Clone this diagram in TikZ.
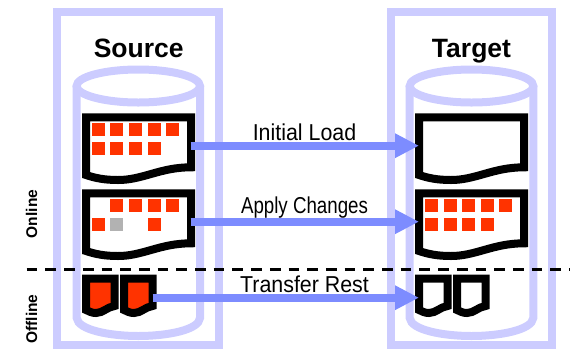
\documentclass[tikz,border=0pt]{standalone}
\usepackage{fontspec}
\setmainfont{Liberation Sans}
\usetikzlibrary{arrows.meta}
\definecolor{frameblue}{RGB}{204,204,255}
\definecolor{arrowblue}{RGB}{125,140,255}
\definecolor{cellred}{RGB}{255,51,0}
\definecolor{cellgray}{RGB}{178,178,178}
\tikzset{
  x=1pt,y=-1pt,
  frame/.style={draw=frameblue,line width=8pt,miter limit=10},
  docline/.style={draw=black,line width=8pt,fill=white,line join=miter},
  smalldoc/.style={draw=black,line width=8pt,line join=miter},
  flow/.style={draw=arrowblue,line width=8pt,-{Triangle[length=24pt,width=23pt]}},
  head/.style={font=\fontsize{26.5}{26.5}\selectfont\bfseries,anchor=base,inner sep=0pt},
  flowlabel/.style={font=\fontsize{23}{23}\selectfont,anchor=base,inner sep=0pt,xscale=.93,transform shape},
  side/.style={font=\fontsize{15.5}{15.5}\selectfont\bfseries,rotate=90,inner sep=0pt},
  pics/bigdoc/.style={code={
    \path[docline] (86,117.3) -- (191,117.3) -- (191,167.3)
      .. controls (160,167.3) and (143,180) .. (118,180)
      .. controls (104,180) and (95,178) .. (86,175) -- cycle;
  }},
  pics/tinydoc/.style={code={
    \path[smalldoc,fill=#1] (86,278.5) -- (114.5,278.5) -- (114.5,306)
      .. controls (107,307) and (103,313) .. (96,313)
      .. controls (92,313) and (89,311.5) .. (86,310) -- cycle;
  }},
}
\newcommand{\cellsq}[3]{\fill[#1] (#2,#3) rectangle ++(13,13);}
\begin{document}
\begin{tikzpicture}
\useasboundingbox (0,0) rectangle (570,349);
% frames
\draw[frame] (57.3,12) rectangle (219,345);
\draw[frame] (390.7,12) rectangle (552,345);
% cylinders
\draw[frame] (76.7,86) -- (76.7,318) .. controls (78,330) and (110,336) .. (138.3,336)
  .. controls (167,336) and (199,330) .. (200,318) -- (200,86);
\draw[frame] (138.3,86) ellipse [x radius=61.7,y radius=16.5];
\draw[frame] (409.7,86) -- (409.7,318) .. controls (411,330) and (443,336) .. (471.5,336)
  .. controls (500,336) and (532,330) .. (533.3,318) -- (533.3,86);
\draw[frame] (471.5,86) ellipse [x radius=61.8,y radius=16.5];
% source documents
\pic at (0,0) {bigdoc};
\pic at (0,76) {bigdoc};
\pic at (0,0) {tinydoc=cellred};
\pic at (38,0) {tinydoc=cellred};
% target documents
\pic at (333,0) {bigdoc};
\pic at (333,76) {bigdoc};
\pic at (333,0) {tinydoc=white};
\pic at (371,0) {tinydoc=white};
% cells
\foreach \x in {92,110,129,148,166} \cellsq{cellred}{\x}{123}
\foreach \x in {92,110,129,148} \cellsq{cellred}{\x}{142}
\foreach \x in {110,129,148,166} \cellsq{cellred}{\x}{199}
\foreach \x in {92,148} \cellsq{cellred}{\x}{218}
\cellsq{cellgray}{110}{218}
\foreach \x in {425,444,462,481,499} \cellsq{cellred}{\x}{199}
\foreach \x in {425,444,462,481} \cellsq{cellred}{\x}{218}
% connector ends
\coordinate (loadS) at (190.7,145.7);
\coordinate (loadT) at (419,145.7);
\coordinate (applyS) at (190.7,221.7);
\coordinate (applyT) at (419,221.7);
\coordinate (restS) at (152.7,297.7);
\coordinate (restT) at (419,297.7);
\coordinate (splitL) at (26.7,269.7);
\coordinate (splitR) at (570,269.7);
\draw[flow] (loadS) -- (loadT);
\draw[flow] (applyS) -- (applyT);
\draw[flow] (restS) -- (restT);
\draw[line width=2.6pt,dash pattern=on 10.7pt off 8pt] (splitL) -- (splitR);
% text
\node[head] (source) at (138.7,57) {Source};
\node[head] (target) at (471.5,57) {Target};
\node[flowlabel] (lload) at (304.5,140) {Initial Load};
\node[flowlabel,xscale=.875] (lapply) at (304.5,213) {Apply Changes};
\node[flowlabel] (lrest) at (304.5,292) {Transfer Rest};
\node[side] (online) at (31.7,214) {Online};
\node[side] (offline) at (31.7,319) {Offline};
\end{tikzpicture}
\end{document}
